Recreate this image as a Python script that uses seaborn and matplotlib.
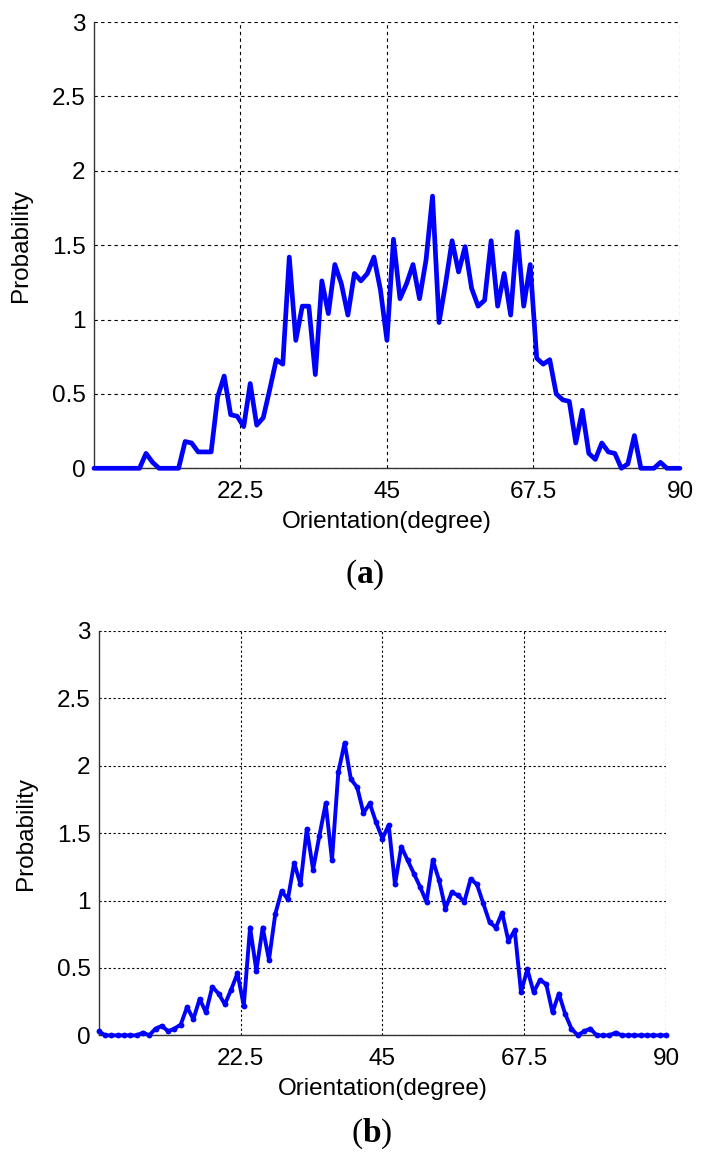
import matplotlib

matplotlib.use("Agg")
import matplotlib.pyplot as plt
import numpy as np
import pandas as pd
import seaborn as sns


# Orientation histograms, one value per degree from 0 to 90.
ORIENTATION = np.arange(0, 91)

PROB_A = [
    0, 0, 0, 0, 0, 0, 0, 0, 0.10, 0.04,
    0, 0, 0, 0, 0.18, 0.17, 0.11, 0.11, 0.11, 0.48,
    0.62, 0.36, 0.35, 0.28, 0.57, 0.29, 0.34, 0.53, 0.73, 0.70,
    1.42, 0.86, 1.09, 1.09, 0.63, 1.26, 1.04, 1.37, 1.24, 1.03,
    1.31, 1.26, 1.31, 1.42, 1.20, 0.86, 1.54, 1.14, 1.24, 1.37,
    1.14, 1.40, 1.83, 0.98, 1.24, 1.53, 1.32, 1.49, 1.21, 1.09,
    1.13, 1.53, 1.09, 1.31, 1.03, 1.59, 1.09, 1.37, 0.74, 0.70,
    0.73, 0.50, 0.46, 0.45, 0.17, 0.39, 0.10, 0.06, 0.17, 0.11,
    0.10, 0, 0.03, 0.22, 0, 0, 0, 0.04, 0, 0,
    0,
]

PROB_B = [
    0.03, 0, 0, 0, 0, 0, 0, 0.02, 0, 0.05,
    0.07, 0.03, 0.05, 0.08, 0.21, 0.12, 0.27, 0.17, 0.36, 0.31,
    0.23, 0.34, 0.46, 0.22, 0.80, 0.48, 0.80, 0.56, 0.90, 1.07,
    1.01, 1.28, 1.12, 1.53, 1.23, 1.48, 1.72, 1.30, 1.95, 2.17,
    1.90, 1.84, 1.65, 1.72, 1.58, 1.46, 1.56, 1.12, 1.40, 1.30,
    1.20, 1.10, 0.99, 1.30, 1.15, 0.94, 1.06, 1.04, 0.99, 1.16,
    1.12, 0.98, 0.84, 0.80, 0.91, 0.70, 0.78, 0.32, 0.49, 0.32,
    0.41, 0.38, 0.17, 0.31, 0.16, 0.05, 0, 0.03, 0.05, 0,
    0, 0, 0.02, 0, 0, 0, 0, 0, 0, 0,
    0,
]

X_TICKS = [22.5, 45, 67.5, 90]
X_TICK_LABELS = ["22.5", "45", "67.5", "90"]
Y_TICKS = [0, 0.5, 1, 1.5, 2, 2.5, 3]
Y_TICK_LABELS = ["0", "0.5", "1", "1.5", "2", "2.5", "3"]
PANEL_LABELS = ["a", "b"]


def style_axes(ax, dashes):
    ax.set_xlim(0, 90)
    ax.set_ylim(0, 3)
    ax.set_xticks(X_TICKS)
    ax.set_xticklabels(X_TICK_LABELS)
    ax.set_yticks(Y_TICKS)
    ax.set_yticklabels(Y_TICK_LABELS)
    ax.set_xlabel("Orientation(degree)", fontsize=17.5, labelpad=6)
    ax.set_ylabel("Probability", fontsize=17.5, labelpad=14)
    ax.tick_params(labelsize=17.5, length=0, labelcolor="black")
    ax.tick_params(axis="x", pad=9)
    ax.tick_params(axis="y", pad=6)
    ax.grid(True, color="black", linewidth=0.8, linestyle=(0, dashes))
    # The frame is only drawn on the left and bottom; the grid closes the box.
    for side in ["top", "right"]:
        ax.spines[side].set_visible(False)
    for side in ["left", "bottom"]:
        ax.spines[side].set_color("#333333")
        ax.spines[side].set_linewidth(1.0)
        ax.spines[side].set_zorder(3)
    ax.set_axisbelow(True)


def main() -> None:
    sns.set_theme(style="white")
    plt.rcParams["font.family"] = ["Liberation Sans", "DejaVu Sans"]
    plt.rcParams["text.color"] = "black"
    plt.rcParams["axes.labelcolor"] = "black"
    plt.rcParams["mathtext.fontset"] = "custom"
    plt.rcParams["mathtext.bf"] = "Liberation Serif:bold"
    plt.rcParams["mathtext.rm"] = "Liberation Serif"

    df_a = pd.DataFrame({"Orientation": ORIENTATION, "Probability": PROB_A})
    df_b = pd.DataFrame({"Orientation": ORIENTATION, "Probability": PROB_B})

    fig = plt.figure(figsize=(7.01, 11.62), dpi=100)
    ax_a = fig.add_axes([0.134, 0.597, 0.836, 0.384])
    ax_b = fig.add_axes([0.141, 0.109, 0.809, 0.348])

    sns.lineplot(data=df_a, x="Orientation", y="Probability", ax=ax_a,
                 color="#0000ff", linewidth=3.4, clip_on=False, zorder=4)
    sns.lineplot(data=df_b, x="Orientation", y="Probability", ax=ax_b,
                 color="#0000ff", linewidth=2.8, marker="o", markersize=4.2,
                 markeredgewidth=0, clip_on=False, zorder=4)

    style_axes(ax_a, (3, 3))
    style_axes(ax_b, (2, 2.2))

    fig.text(0.52, 0.505, r"($\mathbf{" + PANEL_LABELS[0] + r"}$)",
             family="Liberation Serif", fontsize=24, ha="center", va="center")
    fig.text(0.53, 0.024, r"($\mathbf{" + PANEL_LABELS[1] + r"}$)",
             family="Liberation Serif", fontsize=24, ha="center", va="center")

    fig.savefig("out.png", dpi=100)
    plt.close(fig)


if __name__ == "__main__":
    main()
